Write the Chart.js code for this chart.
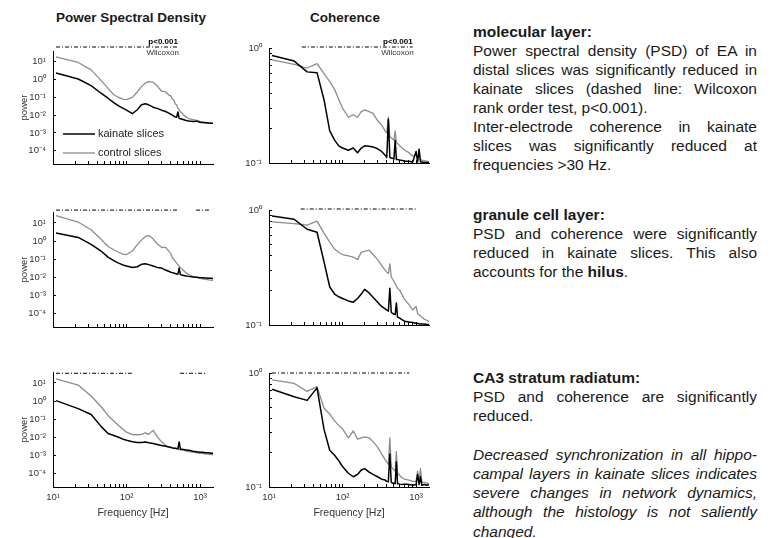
<!DOCTYPE html>
<html>
<head>
<meta charset="utf-8">
<script src="https://cdn.jsdelivr.net/npm/chart.js@4.4.1/dist/chart.umd.min.js"></script>
<style>
  body { margin: 0; width: 771px; height: 538px; background: #fff; position: relative; overflow: hidden;
         font-family: "Liberation Sans", Arial, sans-serif; color: #1a1a1a; }
  .panel { position: absolute; }
  .ttl { position: absolute; top: 10px; font-weight: bold; font-size: 13.5px; line-height: 16px; text-align: center; }
  .txt { position: absolute; left: 473px; width: 284px; font-size: 15.5px; line-height: 19px; }
  .j { text-align: justify; text-align-last: justify; }
</style>
</head>
<body>
<div class="ttl" style="left:31px;width:200px">Power Spectral Density</div>
<div class="ttl" style="left:295px;width:100px">Coherence</div>

<div class="txt" style="top:22px">
  <div><b>molecular layer:</b></div>
  <div class="j">Power spectral density (PSD) of EA in</div>
  <div class="j">distal slices was significantly reduced in</div>
  <div class="j">kainate slices (dashed line: Wilcoxon</div>
  <div>rank order test, p&lt;0.001).</div>
  <div class="j">Inter-electrode coherence in kainate</div>
  <div class="j">slices was significantly reduced at</div>
  <div>frequencies &gt;30 Hz.</div>
</div>
<div class="txt" style="top:205px">
  <div><b>granule cell layer:</b></div>
  <div class="j">PSD and coherence were significantly</div>
  <div class="j">reduced in kainate slices. This also</div>
  <div>accounts for the <b>hilus</b>.</div>
</div>
<div class="txt" style="top:368px;line-height:19.2px">
  <div><b>CA3 stratum radiatum:</b></div>
  <div class="j">PSD and coherence are significantly</div>
  <div>reduced.</div>
  <div>&nbsp;</div>
  <div class="j"><i>Decreased synchronization in all hippo-</i></div>
  <div class="j"><i>campal layers in kainate slices indicates</i></div>
  <div class="j"><i>severe changes in network dynamics,</i></div>
  <div class="j"><i>although the histology is not saliently</i></div>
  <div><i>changed.</i></div>
</div>

<script>
// frequency bins (Hz)
const freq = [11, 22, 33, 45, 56, 67, 78, 89, 100,
  120, 140, 160, 180, 200,
  230, 260, 300, 340, 380,
  400, 420, 440, 460, 480, 500, 520, 540, 560,
  600, 650, 700, 800, 900, 1000,
  1050, 1100, 1150, 1200, 1300, 1400, 1500];

// power spectral density
const psdMolKainate = [2.3, 1.07, 0.45, 0.17, 0.089, 0.05, 0.033, 0.025, 0.019,
  0.012, 0.02, 0.038, 0.044, 0.038,
  0.028, 0.024, 0.019, 0.016, 0.0126,
  0.0112, 0.01, 0.0089, 0.0079, 0.0076, 0.015, 0.0066, 0.0063, 0.006,
  0.0055, 0.005, 0.0047, 0.0044, 0.0046, 0.004,
  0.0039, 0.0038, 0.0037, 0.0037, 0.0036, 0.0035, 0.0035];
const psdMolControl = [19, 9.1, 3.5, 0.89, 0.32, 0.14, 0.1, 0.079, 0.074,
  0.1, 0.2, 0.4, 0.63, 0.76,
  0.71, 0.45, 0.22, 0.2, 0.13,
  0.12, 0.08, 0.07, 0.042, 0.038, 0.024, 0.021, 0.015, 0.014,
  0.01, 0.0079, 0.0063, 0.0056, 0.005, 0.0045,
  0.0042, 0.004, 0.004, 0.0038, 0.0036, 0.0035, 0.0034];
const psdGclKainate = [2.75, 1.58, 0.66, 0.28, 0.13, 0.083, 0.06, 0.048, 0.042,
  0.035, 0.038, 0.052, 0.056, 0.05,
  0.042, 0.035, 0.032, 0.025, 0.021,
  0.019, 0.018, 0.017, 0.016, 0.015, 0.0148, 0.032, 0.014, 0.0135,
  0.0126, 0.0117, 0.0112, 0.0105, 0.01, 0.0095,
  0.0093, 0.0093, 0.0091, 0.0091, 0.0089, 0.0087, 0.0085];
const psdGclControl = [25, 11.2, 4.2, 1.26, 0.5, 0.33, 0.24, 0.19, 0.18,
  0.28, 0.63, 1.12, 1.78, 2.0,
  1.32, 0.71, 0.45, 0.45, 0.26,
  0.2, 0.12, 0.1, 0.075, 0.06, 0.05, 0.04, 0.035, 0.03,
  0.023, 0.017, 0.014, 0.011, 0.01, 0.0089,
  0.0083, 0.0079, 0.0079, 0.0076, 0.0072, 0.0069, 0.0068];
const psdCa3Kainate = [1.05, 0.38, 0.18, 0.04, 0.016, 0.0126, 0.01, 0.0079, 0.0068,
  0.0056, 0.0052, 0.0052, 0.0055, 0.005,
  0.0045, 0.004, 0.0035, 0.0032, 0.0029,
  0.0028, 0.0026, 0.0025, 0.0025, 0.0024, 0.0023, 0.0055, 0.0022, 0.0022,
  0.0021, 0.002, 0.0019, 0.0017, 0.0016, 0.0015,
  0.0015, 0.0015, 0.0014, 0.0014, 0.0014, 0.0013, 0.0013];
const psdCa3Control = [16.6, 7.6, 1.9, 0.5, 0.16, 0.079, 0.045, 0.028, 0.019,
  0.014, 0.0138, 0.0145, 0.0174, 0.0145,
  0.024, 0.0112, 0.0056, 0.0035, 0.0028,
  0.0027, 0.0026, 0.0025, 0.0024, 0.0023, 0.0022, 0.0021, 0.002, 0.002,
  0.0019, 0.0017, 0.0016, 0.0015, 0.0014, 0.0013,
  0.0013, 0.00126, 0.00123, 0.0012, 0.00115, 0.00112, 0.0011];

// coherence
const cohMolKainate = [0.86, 0.77, 0.62, 0.61, 0.355, 0.19, 0.158, 0.141, 0.135,
  0.129, 0.135, 0.123, 0.135, 0.141,
  0.14, 0.138, 0.133, 0.126, 0.117,
  0.112, 0.24, 0.112, 0.11, 0.11, 0.108, 0.158, 0.107, 0.107,
  0.106, 0.105, 0.1035, 0.1035, 0.102, 0.126,
  0.102, 0.132, 0.102, 0.102, 0.101, 0.101, 0.101];
const cohMolControl = [0.79, 0.72, 0.67, 0.73, 0.6, 0.51, 0.437, 0.355, 0.3,
  0.25, 0.263, 0.25, 0.28, 0.29,
  0.28, 0.27, 0.234, 0.214, 0.19,
  0.182, 0.25, 0.17, 0.166, 0.162, 0.158, 0.19, 0.151, 0.148,
  0.141, 0.135, 0.129, 0.123, 0.115, 0.117,
  0.11, 0.115, 0.107, 0.106, 0.105, 0.1035, 0.1035];
const cohGclKainate = [0.885, 0.83, 0.68, 0.64, 0.355, 0.214, 0.186, 0.176, 0.17,
  0.162, 0.158, 0.17, 0.186, 0.204,
  0.19, 0.174, 0.158, 0.145, 0.138,
  0.135, 0.132, 0.209, 0.129, 0.126, 0.124, 0.123, 0.155, 0.117,
  0.115, 0.111, 0.108, 0.106, 0.105, 0.1035,
  0.1035, 0.102, 0.102, 0.102, 0.102, 0.101, 0.101];
const cohGclControl = [0.79, 0.76, 0.74, 0.8, 0.63, 0.525, 0.457, 0.427, 0.41,
  0.4, 0.39, 0.37, 0.43, 0.437,
  0.447, 0.41, 0.37, 0.33, 0.3,
  0.288, 0.28, 0.34, 0.263, 0.25, 0.24, 0.229, 0.219, 0.209,
  0.2, 0.182, 0.166, 0.151, 0.135, 0.145,
  0.126, 0.123, 0.12, 0.117, 0.112, 0.11, 0.107];
const cohCa3Kainate = [0.72, 0.62, 0.575, 0.74, 0.32, 0.21, 0.19, 0.17, 0.151,
  0.132, 0.123, 0.129, 0.141, 0.145,
  0.135, 0.129, 0.123, 0.117, 0.115,
  0.112, 0.111, 0.195, 0.11, 0.108, 0.108, 0.107, 0.166, 0.107,
  0.106, 0.105, 0.106, 0.105, 0.1035, 0.105,
  0.129, 0.105, 0.123, 0.1035, 0.105, 0.1035, 0.105];
const cohCa3Control = [0.87, 0.81, 0.69, 0.76, 0.49, 0.437, 0.38, 0.347, 0.324,
  0.27, 0.31, 0.263, 0.27, 0.275,
  0.27, 0.25, 0.224, 0.195, 0.174,
  0.166, 0.158, 0.27, 0.151, 0.145, 0.141, 0.138, 0.204, 0.132,
  0.126, 0.12, 0.117, 0.115, 0.112, 0.112,
  0.138, 0.112, 0.145, 0.11, 0.11, 0.108, 0.107];

// significant ranges (Wilcoxon, p<0.001), [from, to] in Hz
const sigPsdMol = [[11, 500]];
const sigPsdGcl = [[11, 500], [880, 1330]];
const sigPsdCa3 = [[11, 118], [535, 1230]];
const sigCohMol = [[28, 900]];
const sigCohGcl = [[27, 1020]];
const sigCohCa3 = [[11, 810]];

// ticks
const xTicks = [10, 20, 30, 40, 50, 60, 70, 80, 90, 100, 200, 300, 400, 500, 600, 700, 800, 900, 1000];
const xTickLabels = ['10¹', '', '', '', '', '', '', '', '', '10²', '', '', '', '', '', '', '', '', '10³'];
const psdYTicks = [1e-4, 1e-3, 1e-2, 1e-1, 1, 10];
const psdYLabels = ['10⁻⁴', '10⁻³', '10⁻²', '10⁻¹', '10⁰', '10¹'];
const cohYTicks = [0.1, 0.2, 0.3, 0.4, 0.5, 0.6, 0.7, 0.8, 0.9, 1];
const cohYLabels = ['10⁻¹', '', '', '', '', '', '', '', '', '10⁰'];

const FONT = '"Liberation Sans", Arial, sans-serif';
Chart.defaults.font.family = FONT;

// legend + p-value note, drawn inside the plot
const annotPlugin = {
    id: 'annot',
    afterDraw(chart, args, opts) {
        const ctx = chart.ctx, a = chart.chartArea;
        ctx.save();
        if (opts.note) {
            const px = chart.scales.x.getPixelForValue(opts.note[0]);
            const py = chart.scales.y.getPixelForValue(opts.note[1]);
            ctx.textAlign = 'right';
            ctx.textBaseline = 'middle';
            ctx.fillStyle = '#000';
            ctx.font = 'bold 8px ' + FONT;
            ctx.fillText('p<0.001', px, py - 5);
            ctx.fillStyle = '#333';
            ctx.font = '8px ' + FONT;
            ctx.fillText('Wilcoxon', px + 1, py + 6);
        }
        if (opts.legend) {
            chart.data.datasets.slice(0, 2).forEach((ds, i) => {
                const yy = a.top + 83 + i * 19;
                ctx.strokeStyle = ds.borderColor;
                ctx.lineWidth = ds.borderWidth;
                ctx.beginPath();
                ctx.moveTo(a.left + 10, yy);
                ctx.lineTo(a.left + 42, yy);
                ctx.stroke();
                ctx.fillStyle = '#222';
                ctx.font = '11px ' + FONT;
                ctx.textAlign = 'left';
                ctx.textBaseline = 'middle';
                ctx.fillText(ds.label, a.left + 45, yy);
            });
        }
        ctx.restore();
    }
};

function pts(arr) {
    return freq.map((f, i) => ({ x: f, y: arr[i] }));
}

function makePanel(p) {
    const div = document.createElement('div');
    div.className = 'panel';
    div.style.left = p.box[0] + 'px';
    div.style.top = p.box[1] + 'px';
    div.style.width = p.box[2] + 'px';
    div.style.height = p.box[3] + 'px';
    const cv = document.createElement('canvas');
    div.appendChild(cv);
    document.body.appendChild(div);

    const psd = p.kind === 'psd';
    const datasets = [
        { label: 'kainate slices', data: pts(p.k), borderColor: '#000', borderWidth: 1.5 },
        { label: 'control slices', data: pts(p.c), borderColor: '#8c8c8c', borderWidth: 1.3 }
    ];
    p.sig.forEach(s => datasets.push({
        label: 'p<0.001',
        data: [{ x: s[0], y: p.sigY }, { x: s[1], y: p.sigY }],
        borderColor: '#000', borderWidth: 1, borderDash: [4, 2, 1, 2], clip: false
    }));

    new Chart(cv, {
        type: 'line',
        data: { datasets },
        plugins: [annotPlugin],
        options: {
            responsive: true,
            maintainAspectRatio: false,
            animation: false,
            events: [],
            layout: { padding: { top: p.area.t - p.box[1], right: p.box[0] + p.box[2] - p.area.r, left: 0, bottom: 0 } },
            elements: { point: { radius: 0 }, line: { tension: 0, borderJoinStyle: 'round' } },
            plugins: {
                legend: { display: false },
                tooltip: { enabled: false },
                annot: {
                    legend: !!p.legend,
                    note: p.note ? [p.sig[p.sig.length - 1][1], p.sigY] : null
                }
            },
            scales: {
                x: {
                    type: 'logarithmic', min: 10, max: 1500,
                    afterBuildTicks: s => { s.ticks = xTicks.map(v => ({ value: v })); },
                    afterFit: s => { s.height = p.box[1] + p.box[3] - p.area.b; },
                    grid: { drawOnChartArea: false, drawTicks: true, tickLength: -3, color: '#000' },
                    border: { display: true, color: '#000', width: 1 },
                    ticks: {
                        autoSkip: false, maxRotation: 0, padding: 8, color: '#333', font: { size: 9.5 },
                        callback: (v, i) => p.bottom ? xTickLabels[i] : ''
                    },
                    title: { display: !!p.bottom, text: 'Frequency [Hz]', color: '#333', font: { size: 10.5 }, padding: { top: 0, bottom: 3 } }
                },
                y: {
                    type: 'logarithmic',
                    min: psd ? 1.8e-5 : 0.1,
                    max: psd ? 40 : 1,
                    afterBuildTicks: s => { s.ticks = (psd ? psdYTicks : cohYTicks).map(v => ({ value: v })); },
                    afterFit: s => { s.width = p.area.l - p.box[0]; },
                    grid: { drawOnChartArea: false, drawTicks: true, tickLength: -3, color: '#000' },
                    border: { display: true, color: '#000', width: 1 },
                    ticks: {
                        autoSkip: false, padding: 10, color: '#333', font: { size: 9.5 },
                        callback: (v, i) => (psd ? psdYLabels : cohYLabels)[i]
                    },
                    title: { display: psd, text: 'power', color: '#333', font: { size: 9.5 }, padding: { top: 19, bottom: 0 } }
                }
            }
        }
    });
}

const panels = [
    { kind: 'psd', box: [0, 25, 225, 157], area: { l: 53, t: 51, r: 213, b: 164 }, k: psdMolKainate, c: psdMolControl, sig: sigPsdMol, sigY: 67, legend: true, note: true },
    { kind: 'coh', box: [228, 25, 212, 156], area: { l: 269, t: 48, r: 429, b: 163 }, k: cohMolKainate, c: cohMolControl, sig: sigCohMol, sigY: 1.02, note: true },
    { kind: 'psd', box: [0, 190, 225, 155], area: { l: 53, t: 212, r: 213, b: 327 }, k: psdGclKainate, c: psdGclControl, sig: sigPsdGcl, sigY: 51 },
    { kind: 'coh', box: [228, 190, 212, 153], area: { l: 269, t: 210, r: 429, b: 325 }, k: cohGclKainate, c: cohGclControl, sig: sigCohGcl, sigY: 1.02 },
    { kind: 'psd', box: [0, 350, 225, 172], area: { l: 53, t: 372, r: 213, b: 487 }, k: psdCa3Kainate, c: psdCa3Control, sig: sigPsdCa3, sigY: 34, bottom: true },
    { kind: 'coh', box: [228, 350, 212, 172], area: { l: 269, t: 373, r: 429, b: 487 }, k: cohCa3Kainate, c: cohCa3Control, sig: sigCohCa3, sigY: 1.0, bottom: true }
];
panels.forEach(makePanel);
</script>
</body>
</html>
